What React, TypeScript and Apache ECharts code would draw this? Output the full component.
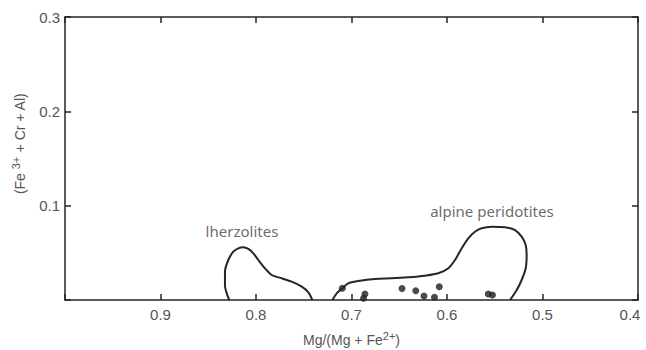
import React, { useEffect, useRef } from 'react';
import * as echarts from 'echarts';

// x: Mg/(Mg+Fe2+), y: (Fe3+ + Cr + Al)
const lherzoliteOutline: [number, number][] = [
  [0.828, 0], [0.8325, 0.016], [0.8325, 0.03], [0.829, 0.0424], [0.8238, 0.0512],
  [0.8185, 0.0548], [0.8133, 0.0559], [0.808, 0.0541], [0.8028, 0.0495], [0.7976, 0.0424],
  [0.7906, 0.0336], [0.7836, 0.0265], [0.7731, 0.023], [0.7626, 0.0194], [0.7521, 0.0141],
  [0.7452, 0.0082], [0.741, 0],
];

const alpineOutline: [number, number][] = [
  [0.72, 0], [0.7155, 0.0071], [0.7096, 0.0124], [0.7034, 0.0177], [0.6929, 0.0201],
  [0.6754, 0.0223], [0.6579, 0.023], [0.6405, 0.0241], [0.623, 0.0258], [0.6091, 0.0283],
  [0.5986, 0.0336], [0.5916, 0.0424], [0.5846, 0.0548], [0.5777, 0.0654], [0.5707, 0.0724],
  [0.5637, 0.076], [0.5532, 0.0777], [0.5393, 0.0771], [0.5288, 0.0742], [0.5218, 0.0671],
  [0.5176, 0.0583], [0.5166, 0.0477], [0.5176, 0.0336], [0.5218, 0.0212], [0.527, 0.0106],
  [0.534, 0],
];

const samples: [number, number][] = [
  [0.7096, 0.0124], [0.6859, 0.0064], [0.6874, 0.0018], [0.6471, 0.0122], [0.6327, 0.0098],
  [0.6241, 0.0042], [0.6131, 0.0029], [0.6081, 0.0141], [0.5568, 0.0064], [0.5524, 0.0053],
];

const fieldNames = ['lherzolites', 'alpine peridotites'];
const fieldLabelPos: [number, number][] = [[0.8147, 0.0732], [0.553, 0.0944]];

const xMin = 0.4, xMax = 1.0, xStep = 0.1;
const yMin = 0, yMax = 0.3, yStep = 0.1;

const LINE = '#262626';
const TEXT = '#555555';
const NUM_FONT = 'Liberation Sans, Arial, sans-serif';
const ANN_FONT = 'Noto Sans, Open Sans, sans-serif';

export default function App() {
  const ref = useRef<HTMLDivElement>(null);
  useEffect(() => {
    document.body.style.margin = '0';
    const chart = echarts.init(ref.current!, null, { renderer: 'svg' });
    const axisLine = { show: true, onZero: false, lineStyle: { color: LINE, width: 1.5 } };
    const axisTick = { show: true, inside: true, length: 6, lineStyle: { color: LINE, width: 1.5 } };
    const numLabel = { color: TEXT, fontSize: 15, fontFamily: NUM_FONT };
    const supStyle = { fontSize: 11, fontFamily: NUM_FONT, color: TEXT, verticalAlign: 'top', lineHeight: 20 };
    chart.setOption({
      animation: false,
      grid: { left: 65, right: 8, top: 17, bottom: 50, containLabel: false, outerBoundsMode: 'none' },
      xAxis: [
        {
          type: 'value', position: 'bottom', min: xMin, max: xMax, interval: xStep, inverse: true,
          axisLine, axisTick, splitLine: { show: false },
          axisLabel: {
            ...numLabel, margin: 7,
            formatter: (v: number) => {
              if (Math.abs(v - xMax) < 1e-6) return '';
              if (Math.abs(v - xMin) < 1e-6) return '{edge|' + v.toFixed(1) + '}';
              return v.toFixed(1);
            },
            rich: { edge: { ...numLabel, padding: [0, 16, 0, 0] } },
          },
          name: 'Mg/(Mg + Fe{sup|2+})',
          nameLocation: 'middle', nameGap: 30,
          nameTextStyle: { color: TEXT, fontSize: 14, fontFamily: NUM_FONT, rich: { sup: supStyle } },
        },
        {
          type: 'value', position: 'top', min: xMin, max: xMax, interval: xStep, inverse: true,
          axisLine, axisTick, splitLine: { show: false }, axisLabel: { show: false },
        },
      ],
      yAxis: [
        {
          type: 'value', position: 'left', min: yMin, max: yMax, interval: yStep,
          axisLine, axisTick, splitLine: { show: false },
          axisLabel: {
            ...numLabel, margin: 5,
            formatter: (v: number) => (Math.abs(v) < 1e-6 ? '' : v.toFixed(1)),
          },
          name: '(Fe {sup|3+} + Cr + Al)',
          nameLocation: 'middle', nameGap: 35, nameRotate: 90,
          nameTextStyle: {
            color: TEXT, fontSize: 14, fontFamily: NUM_FONT, padding: [0, 0, 0, 30],
            rich: { sup: supStyle },
          },
        },
        {
          type: 'value', position: 'right', min: yMin, max: yMax, interval: yStep,
          axisLine, axisTick, splitLine: { show: false }, axisLabel: { show: false },
        },
      ],
      series: [
        {
          type: 'line', data: lherzoliteOutline, smooth: 0.3, symbol: 'none',
          lineStyle: { color: LINE, width: 2 },
        },
        {
          type: 'line', data: alpineOutline, smooth: 0.3, symbol: 'none',
          lineStyle: { color: LINE, width: 2 },
        },
        {
          type: 'scatter', data: samples, symbolSize: 7,
          itemStyle: { color: '#1e1e1e' },
        },
        {
          type: 'scatter', symbolSize: 1,
          data: fieldNames.map((n, i) => ({ name: n, value: fieldLabelPos[i] })),
          itemStyle: { color: 'rgba(0,0,0,0)' },
          label: {
            show: true, position: 'inside', formatter: '{b}',
            color: '#444', fontSize: 15, fontFamily: ANN_FONT,
          },
        },
      ],
    });
    return () => chart.dispose();
  }, []);
  return <div ref={ref} style={{ width: 646, height: 350 }} />;
}
